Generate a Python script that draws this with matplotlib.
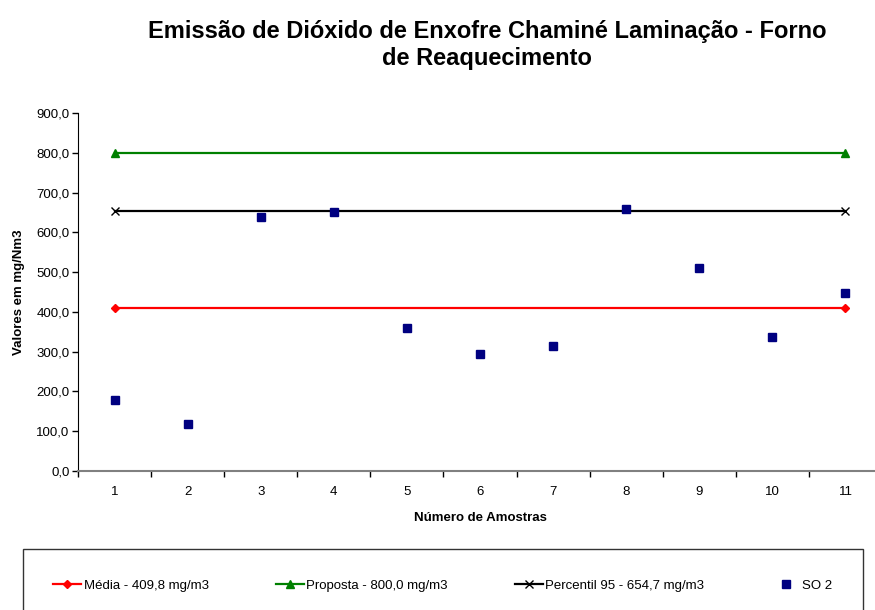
import matplotlib
matplotlib.use('Agg')
import matplotlib.pyplot as plt
from matplotlib.ticker import FixedLocator, FuncFormatter

plt.rcParams['font.family'] = ['Liberation Sans', 'DejaVu Sans']

# amostras de SO2 (mg/Nm3)
amostras = [1, 2, 3, 4, 5, 6, 7, 8, 9, 10, 11]
so2 = [179, 117, 639, 651, 360, 294, 314, 659, 511, 337, 447]

# linhas de referência (só nos extremos)
ref_x = [1, 11]
media = [409.8, 409.8]
proposta = [800.0, 800.0]
percentil = [654.7, 654.7]

titulo = 'Emissão de Dióxido de Enxofre Chaminé Laminação - Forno\nde Reaquecimento'
leg_media = 'Média - 409,8 mg/m3'
leg_proposta = 'Proposta - 800,0 mg/m3'
leg_percentil = 'Percentil 95 - 654,7 mg/m3'
leg_so2 = 'SO 2'

fs = 9.5

fig = plt.figure(figsize=(8.75, 6.10), dpi=100)
ax = fig.add_axes([78/875, 139/610, 804/875, 358/610])

ax.plot(ref_x, media, color='#FF0000', lw=1.6, marker='D', ms=4, label=leg_media)
ax.plot(ref_x, proposta, color='#008000', lw=1.6, marker='^', ms=5.5, label=leg_proposta)
ax.plot(ref_x, percentil, color='black', lw=1.6, marker='x', ms=5.5, mew=1, label=leg_percentil)
ax.plot(amostras, so2, ls='none', marker='s', ms=6, color='#000080', label=leg_so2)

ax.set_xlim(0.5, 11.5)
ax.set_ylim(0, 900)
ax.yaxis.set_major_locator(FixedLocator(range(0, 901, 100)))
ax.yaxis.set_major_formatter(FuncFormatter(lambda v, p: f'{v:.1f}'.replace('.', ',')))

# marcas entre categorias, rótulos no centro
ax.set_xticks([i + 0.5 for i in range(0, 12)])
ax.set_xticklabels([])
ax.set_xticks(amostras, minor=True)
ax.set_xticklabels([str(a) for a in amostras], minor=True)
ax.tick_params(axis='x', which='major', length=4, width=1, direction='out', color='black')
ax.tick_params(axis='x', which='minor', length=0, pad=11, labelsize=fs)
ax.tick_params(axis='y', length=4, width=1, direction='out', labelsize=fs, pad=2)

ax.spines['top'].set_visible(False)
ax.spines['right'].set_visible(False)
ax.spines['bottom'].set_color('#808080')
ax.spines['bottom'].set_linewidth(1.5)
ax.spines['left'].set_color('black')

ax.set_xlabel('Número de Amostras', fontsize=fs, fontweight='bold', labelpad=10)
ax.set_ylabel('Valores em mg/Nm3', fontsize=fs, fontweight='bold', labelpad=8)

fig.text(487/875, 1 - 45/610, titulo, ha='center', va='center', fontsize=17,
         fontweight='bold', linespacing=1.2)

leg = fig.legend(loc='upper left', bbox_to_anchor=(23/875, 1 - 549/610), ncol=4,
                 fontsize=fs, frameon=True, fancybox=False, borderpad=2.3,
                 columnspacing=5.1, handlelength=2.1, handletextpad=0.2,
                 borderaxespad=0)
leg.get_frame().set_edgecolor('black')
leg.get_frame().set_linewidth(1)

fig.savefig('out.png', dpi=100)
